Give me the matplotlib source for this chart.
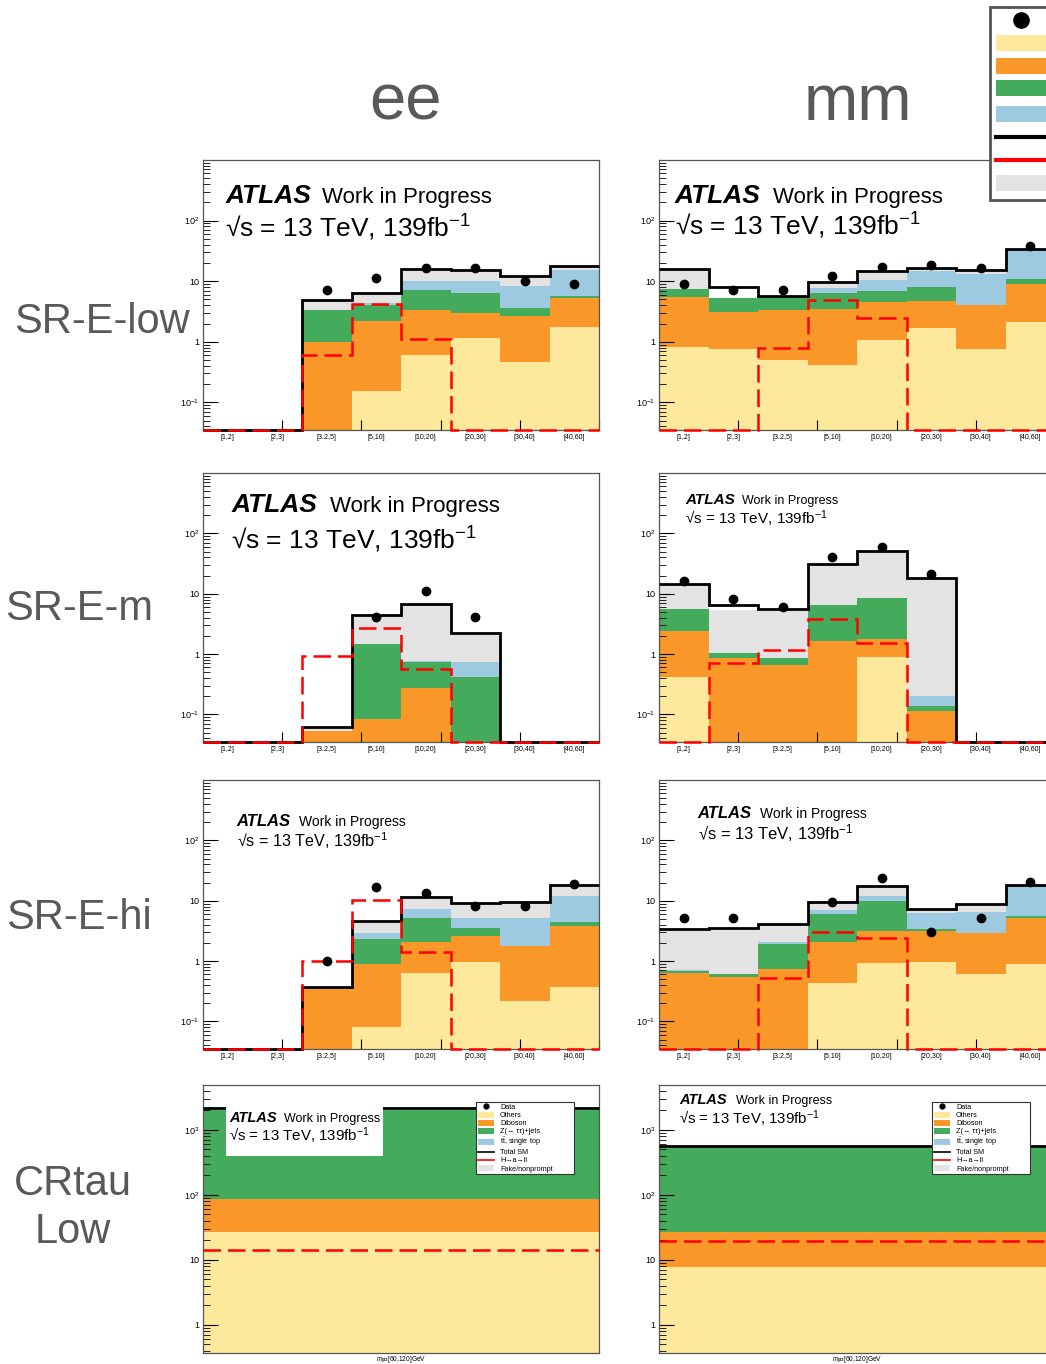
import numpy as np
import matplotlib
matplotlib.use("Agg")
import matplotlib.pyplot as plt
from matplotlib.patches import Patch, Rectangle
from matplotlib.lines import Line2D
from matplotlib.ticker import LogLocator, NullFormatter

plt.rcParams['font.family'] = ['Liberation Sans', 'DejaVu Sans']
plt.rcParams['mathtext.fontset'] = 'custom'
plt.rcParams['mathtext.rm'] = 'Liberation Sans'
plt.rcParams['mathtext.it'] = 'Liberation Sans:italic'
plt.rcParams['mathtext.bf'] = 'Liberation Sans:bold'

nan = np.nan

bin_labels = ['[1,2]', '[2,3]', '[3.2,5]', '[5,10]', '[10,20]', '[20,30]', '[30,40]', '[40,60]']
proc_names = ['Others', 'Diboson', 'Z(→ ττ)+jets', r'$\mathrm{t\bar{t}}$, single top', 'Fake/nonprompt']
proc_colors = ['#FDE89B', '#F99829', '#44AA5C', '#9ECAE1', '#E3E3E3']

# SR-E-low, ee
ee_low_others = [0, 0, 0, 0.155, 0.61, 1.16, 0.47, 1.77]
ee_low_diboson = [0, 0, 1.0, 2.05, 2.7, 1.84, 2.23, 3.5]
ee_low_ztt = [0, 0, 2.4, 1.9, 3.9, 3.5, 0.9, 0.5]
ee_low_top = [0, 0, 0, 0.2, 3.0, 3.5, 4.8, 9.7]
ee_low_fake = [0, 0, 1.5, 2.2, 5.8, 5.5, 3.9, 2.5]
ee_low_total = [0, 0, 4.9, 6.5, 16, 15.5, 12.3, 18]
ee_low_data = [nan, nan, 7.2, 11.4, 16.7, 16.7, 10.2, 9.1]
ee_low_signal = [0, 0, 0.6, 4.25, 1.12, 0, 0, 0]

# SR-E-low, mm
mm_low_others = [0.83, 0.77, 0.5, 0.42, 1.07, 1.71, 0.75, 2.1]
mm_low_diboson = [4.67, 2.39, 2.87, 3.04, 3.53, 3.05, 3.3, 7.0]
mm_low_ztt = [1.8, 2.14, 2.13, 2.94, 2.2, 3.24, 0.05, 1.8]
mm_low_top = [0, 0, 0, 1.3, 3.8, 6.7, 8.8, 22]
mm_low_fake = [8.3, 0, 0, 2.1, 4.1, 2.0, 2.4, 0.9]
mm_low_total = [15.6, 7.9, 5.8, 9.8, 14.7, 16.7, 15.3, 33.8]
mm_low_data = [9.1, 7.1, 7.1, 12.1, 17.3, 18.3, 16.5, 38]
mm_low_signal = [0, 0, 0.8, 4.95, 2.45, 0, 0, 0]

# SR-E-m, ee
ee_m_others = [0, 0, 0, 0, 0, 0, 0, 0]
ee_m_diboson = [0, 0, 0.053, 0.083, 0.27, 0, 0, 0]
ee_m_ztt = [0, 0, 0, 1.38, 0.48, 0.41, 0, 0]
ee_m_top = [0, 0, 0, 0, 0.02, 0.32, 0, 0]
ee_m_fake = [0, 0, 0.008, 2.94, 5.88, 1.53, 0, 0]
ee_m_total = [0, 0, 0.061, 4.4, 6.65, 2.26, 0, 0]
ee_m_data = [nan, nan, nan, 4.05, 11.2, 4.05, nan, nan]
ee_m_signal = [0, 0, 0.93, 2.73, 0.57, 0, 0, 0]

# SR-E-m, mm
mm_m_others = [0.42, 0, 0, 0, 0.88, 0, 0, 0]
mm_m_diboson = [2.02, 0.85, 0.66, 1.66, 0.87, 0.115, 0, 0]
mm_m_ztt = [3.06, 0.2, 0.21, 4.84, 6.85, 0.025, 0, 0]
mm_m_top = [0, 0, 0, 0, 0, 0.06, 0, 0]
mm_m_fake = [8.8, 4.3, 4.48, 24.5, 43, 18.2, 0, 0]
mm_m_total = [14.3, 6.5, 5.5, 31, 51.6, 18.4, 0, 0]
mm_m_data = [16.2, 8.05, 6.1, 41, 58.6, 21.2, nan, nan]
mm_m_signal = [0, 0.70, 1.19, 3.85, 1.5, 0, 0, 0]

# SR-E-hi, ee
ee_hi_others = [0, 0, 0, 0.08, 0.63, 0.95, 0.22, 0.37]
ee_hi_diboson = [0, 0, 0.376, 0.8, 1.47, 1.61, 1.53, 3.48]
ee_hi_ztt = [0, 0, 0, 1.4, 3.0, 0.94, 0.01, 0.65]
ee_hi_top = [0, 0, 0, 0.62, 2.2, 1.6, 3.44, 7.3]
ee_hi_fake = [0, 0, 0, 1.64, 4.1, 4.05, 4.2, 6.4]
ee_hi_total = [0, 0, 0.376, 4.54, 11.4, 9.15, 9.4, 18.2]
ee_hi_data = [nan, nan, 1.01, 16.6, 13.4, 8.25, 8.25, 18.9]
ee_hi_signal = [0, 0, 1.0, 10.3, 1.43, 0, 0, 0]

# SR-E-hi, mm
mm_hi_others = [0, 0, 0, 0.43, 0.93, 0.97, 0.6, 0.88]
mm_hi_diboson = [0.63, 0.54, 0.74, 1.61, 2.25, 2.21, 2.3, 4.32]
mm_hi_ztt = [0.05, 0.06, 1.2, 4.06, 6.7, 0.22, 0, 0.4]
mm_hi_top = [0.02, 0, 0.15, 0.8, 2.2, 2.8, 3.7, 12.1]
mm_hi_fake = [2.7, 2.97, 2.0, 2.7, 5.2, 1.1, 2.1, 0.5]
mm_hi_total = [3.4, 3.57, 4.1, 9.6, 17.3, 7.3, 8.7, 18.2]
mm_hi_data = [5.2, 5.2, nan, 9.4, 24, 3.06, 5.2, 20.7]
mm_hi_signal = [0, 0, 0.52, 3.06, 2.44, 0, 0, 0]

# CRtau Low (single bin, m_ll in [60,120] GeV)
cr_ee_yields = [27, 58, 1905, 40, 0]
cr_ee_total = [2200]
cr_ee_signal = [14]
cr_mm_yields = [7.8, 18.9, 498, 15, 0]
cr_mm_total = [565]
cr_mm_signal = [19.5]

panels = [
    ([ee_low_others, ee_low_diboson, ee_low_ztt, ee_low_top, ee_low_fake], ee_low_total, ee_low_data, ee_low_signal),
    ([mm_low_others, mm_low_diboson, mm_low_ztt, mm_low_top, mm_low_fake], mm_low_total, mm_low_data, mm_low_signal),
    ([ee_m_others, ee_m_diboson, ee_m_ztt, ee_m_top, ee_m_fake], ee_m_total, ee_m_data, ee_m_signal),
    ([mm_m_others, mm_m_diboson, mm_m_ztt, mm_m_top, mm_m_fake], mm_m_total, mm_m_data, mm_m_signal),
    ([ee_hi_others, ee_hi_diboson, ee_hi_ztt, ee_hi_top, ee_hi_fake], ee_hi_total, ee_hi_data, ee_hi_signal),
    ([mm_hi_others, mm_hi_diboson, mm_hi_ztt, mm_hi_top, mm_hi_fake], mm_hi_total, mm_hi_data, mm_hi_signal),
    ([[v] for v in cr_ee_yields], cr_ee_total, [nan], cr_ee_signal),
    ([[v] for v in cr_mm_yields], cr_mm_total, [nan], cr_mm_signal),
]

# ATLAS label placement per panel: x atlas, x work, y line1, y line2, sizes
label_specs = [
    (0.056, 0.300, 0.841, 0.715, 19, 16, 19),
    (0.040, 0.289, 0.842, 0.722, 19, 16, 19),
    (0.071, 0.321, 0.856, 0.717, 19, 16, 19),
    (0.066, 0.210, 0.884, 0.810, 11, 9, 11),
    (0.085, 0.243, 0.830, 0.752, 12, 10, 11.6),
    (0.098, 0.256, 0.858, 0.780, 12, 10, 12),
    (0.066, 0.205, 0.863, 0.788, 10.5, 9, 10.8),
    (0.051, 0.194, 0.929, 0.854, 10.5, 9, 10.8),
]

W, H = 1046, 1364
fig = plt.figure(figsize=(W / 100, H / 100), dpi=100)

col_left = [203, 659]
row_top = [160, 473, 780, 1085]
row_bot = [430, 742, 1049, 1353]
axw = 396


def legend_handles(ms, lw):
    hs = [Line2D([], [], marker='o', ls='none', color='k', ms=ms)]
    hs += [Patch(facecolor=c, edgecolor='none') for c in proc_colors[:4]]
    hs += [Line2D([], [], color='k', lw=lw), Line2D([], [], color='red', lw=lw),
           Patch(facecolor=proc_colors[4], edgecolor='none')]
    labs = ['Data'] + proc_names[:4] + ['Total SM', 'H→a→ll', proc_names[4]]
    return hs, labs


for i, (comps, total, data, signal) in enumerate(panels):
    r, c = i // 2, i % 2
    ax = fig.add_axes([col_left[c] / W, 1 - row_bot[r] / H, axw / W, (row_bot[r] - row_top[r]) / H])
    cr = r == 3
    ymin, ymax = (0.37, 4900) if cr else (0.035, 1000)
    ax.set_yscale('log')
    n = len(total)
    edges = np.arange(n + 1)
    base = np.full(n, 1e-4)
    for vals, col in zip(comps, proc_colors):
        top = base + np.asarray(vals, float)
        ax.stairs(top, edges, baseline=base, fill=True, color=col, lw=0)
        base = top
    ax.stairs(np.maximum(total, ymin), edges, baseline=None, color='k', lw=2, clip_on=False, zorder=3)
    ax.stairs(np.maximum(signal, ymin), edges, baseline=None, color='red', lw=1.8,
              ls=(0, (7, 2.8)), clip_on=False, zorder=4)
    ax.plot(edges[:-1] + 0.5, data, 'o', color='k', ms=6, zorder=5)
    ax.set_xlim(0, n)
    ax.set_ylim(ymin, ymax)

    if cr:
        ax.set_yticks([1, 10, 100, 1000], labels=['1', '10', '10$^{2}$', '10$^{3}$'])
        ax.set_xticks([])
        ax.set_xlabel('m$_{\\mathregular{ll}}$∈[60,120]GeV', fontsize=4.8, labelpad=0.5)
    else:
        ax.set_yticks([0.1, 1, 10, 100], labels=['10$^{-1}$', '1', '10', '10$^{2}$'])
        ax.set_xticks(edges[:-1] + 0.5, labels=bin_labels)
        ax.set_xticks(np.arange(0, 8.01, 1.6), minor=True)
        ax.tick_params(axis='x', which='major', length=0, labelsize=5, pad=3)
        ax.tick_params(axis='x', which='minor', direction='in', length=7, width=0.8)
    ax.yaxis.set_minor_locator(LogLocator(base=10, subs=np.arange(2, 10)))
    ax.yaxis.set_minor_formatter(NullFormatter())
    ax.tick_params(axis='y', which='major', direction='in', length=11, width=0.8, labelsize=6.5, pad=3)
    ax.tick_params(axis='y', which='minor', direction='in', length=5, width=0.6)
    for s in ax.spines.values():
        s.set_color('#555555')
        s.set_linewidth(0.9)

    xa, xw, y1, y2, sa, sw, sl = label_specs[i]
    if i == 6:
        ax.add_patch(Rectangle((0.058, 0.735), 0.396, 0.198, transform=ax.transAxes,
                               facecolor='white', edgecolor='none', zorder=6))
    ax.text(xa, y1, 'ATLAS', transform=ax.transAxes, fontsize=sa, fontweight='bold',
            fontstyle='italic', va='baseline', zorder=7)
    ax.text(xw, y1, 'Work in Progress', transform=ax.transAxes, fontsize=sw, va='baseline', zorder=7)
    ax.text(xa, y2, '√s = 13 TeV, 139fb$^{\\mathregular{-1}}$', transform=ax.transAxes,
            fontsize=sl, va='baseline', zorder=7)

    if cr:
        hs, labs = legend_handles(3.5, 1.2)
        leg = ax.legend(hs, labs, loc='upper left', bbox_to_anchor=(0.689, 0.687, 0.249, 0.25),
                        mode='expand', fontsize=5.2, frameon=True, fancybox=False, framealpha=1,
                        edgecolor='#333333', borderpad=0.25, labelspacing=0.08,
                        handlelength=2.3, handleheight=0.9, handletextpad=0.8, borderaxespad=0)
        leg.get_frame().set_linewidth(0.8)
        leg.set_zorder(8)

# big legend at the top right (cut by the canvas edge, as in the original)
hs, labs = legend_handles(11, 3)
fleg = fig.legend(hs, labs, loc='upper left', bbox_to_anchor=(990 / W, 1 - 7 / H),
                  fontsize=14, frameon=True, fancybox=False, framealpha=1, edgecolor='#555555',
                  borderpad=0.3, labelspacing=0.19, handlelength=2.6, handleheight=0.9,
                  handletextpad=0.8, borderaxespad=0)
fleg.get_frame().set_linewidth(2)

grey = '#595959'
fig.text(405 / W, 1 - 120 / H, 'ee', ha='center', va='baseline', fontsize=47, color=grey)
fig.text(858 / W, 1 - 120 / H, 'mm', ha='center', va='baseline', fontsize=47, color=grey)
fig.text(102 / W, 1 - 333 / H, 'SR-E-low', ha='center', va='baseline', fontsize=30, color=grey)
fig.text(79 / W, 1 - 620 / H, 'SR-E-m', ha='center', va='baseline', fontsize=30, color=grey)
fig.text(79 / W, 1 - 929 / H, 'SR-E-hi', ha='center', va='baseline', fontsize=30, color=grey)
fig.text(73 / W, 1 - 1195 / H, 'CRtau', ha='center', va='baseline', fontsize=30, color=grey)
fig.text(73 / W, 1 - 1243 / H, 'Low', ha='center', va='baseline', fontsize=30, color=grey)

fig.savefig('out.png', dpi=100)
